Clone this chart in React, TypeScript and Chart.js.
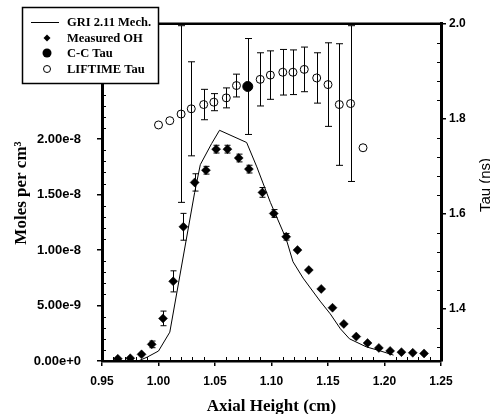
import React, { useEffect, useRef } from "react";
import { Chart, registerables } from "chart.js";
Chart.register(...registerables);

// ---------- data ----------
const xTicks = [0.95, 1.0, 1.05, 1.1, 1.15, 1.2, 1.25];
const yTicks = [0, 5e-9, 1e-8, 1.5e-8, 2e-8];
const y2Ticks = [1.4, 1.6, 1.8, 2.0];

const griX = [0.982, 0.99, 1.0, 1.01, 1.032, 1.037, 1.047, 1.054, 1.078, 1.087, 1.099, 1.113, 1.119, 1.128, 1.143, 1.152, 1.161, 1.169, 1.184, 1.195, 1.208];
const griY = [0, 0.35e-9, 0.9e-9, 2.6e-9, 15.2e-9, 17.7e-9, 19.6e-9, 20.8e-9, 19.7e-9, 17.5e-9, 14.3e-9, 11.0e-9, 8.95e-9, 7.47e-9, 5.4e-9, 4.25e-9, 2.9e-9, 2.0e-9, 1.27e-9, 0.95e-9, 0.53e-9];

const ohX = [0.964, 0.975, 0.985, 0.994, 1.004, 1.013, 1.022, 1.032, 1.042, 1.051, 1.061, 1.071, 1.08, 1.092, 1.102, 1.113, 1.123, 1.133, 1.144, 1.154, 1.164, 1.175, 1.185, 1.195, 1.205, 1.215, 1.225, 1.235];
const ohY = [0.2e-9, 0.25e-9, 0.6e-9, 1.5e-9, 3.84e-9, 7.18e-9, 12.1e-9, 16.1e-9, 17.2e-9, 19.1e-9, 19.1e-9, 18.3e-9, 17.3e-9, 15.2e-9, 13.3e-9, 11.2e-9, 10.0e-9, 8.2e-9, 6.5e-9, 4.8e-9, 3.34e-9, 2.2e-9, 1.62e-9, 1.18e-9, 0.91e-9, 0.8e-9, 0.74e-9, 0.68e-9];
const ohErr = [0, 0, 0, 0.3e-9, 0.66e-9, 0.95e-9, 1.21e-9, 0.78e-9, 0.35e-9, 0.35e-9, 0.35e-9, 0.35e-9, 0.35e-9, 0.44e-9, 0.35e-9, 0.3e-9, 0, 0, 0, 0, 0, 0, 0, 0, 0, 0, 0, 0];

const ccX = [1.079];
const ccY = [1.868];
const ccErr = [0.101];

const liftX = [1.0, 1.01, 1.02, 1.029, 1.04, 1.049, 1.06, 1.069, 1.09, 1.099, 1.11, 1.119, 1.129, 1.14, 1.15, 1.16, 1.17, 1.181];
const liftY = [1.787, 1.796, 1.81, 1.821, 1.83, 1.835, 1.844, 1.87, 1.883, 1.892, 1.898, 1.898, 1.904, 1.886, 1.872, 1.83, 1.832, 1.739];
const liftErr = [0, 0, 0.186, 0.099, 0.032, 0.018, 0.021, 0.024, 0.056, 0.051, 0.048, 0.047, 0.047, 0.053, 0.088, 0.128, 0.164, 0];

const legendLabels = ["GRI 2.11 Mech.", "Measured OH", "C-C Tau", "LIFTIME Tau"];
const xTitle = "Axial Height (cm)";
const yTitle = "Moles per cm\u00B3";
const y2Title = "Tau (ns)";

const SANS = "'Liberation Sans', Arial, sans-serif";
const SERIF = "'Liberation Serif', 'Times New Roman', serif";

const toPts = (xs: number[], ys: number[]) => xs.map((x, i) => ({ x, y: ys[i] }));

const decorPlugin = {
  id: "decor",
  afterDatasetsDraw(chart: any) {
    const ctx = chart.ctx as CanvasRenderingContext2D;
    const { left, right, top, bottom } = chart.chartArea;
    const sx = chart.scales.x, sy = chart.scales.y, sy2 = chart.scales.y2;
    ctx.save();
    ctx.beginPath();
    ctx.rect(left, top - 1, right - left, bottom - top + 2);
    ctx.clip();
    ctx.strokeStyle = "#000";
    ctx.lineWidth = 1;
    const bars = (xs: number[], ys: number[], es: number[], scale: any, cap: number) => {
      xs.forEach((x, i) => {
        const e = es[i];
        if (!e) return;
        const px = Math.round(sx.getPixelForValue(x)) + 0.5;
        const y1 = scale.getPixelForValue(ys[i] + e);
        const y2 = scale.getPixelForValue(ys[i] - e);
        ctx.beginPath();
        ctx.moveTo(px, y1);
        ctx.lineTo(px, y2);
        ctx.moveTo(px - cap, y1);
        ctx.lineTo(px + cap, y1);
        ctx.moveTo(px - cap, y2);
        ctx.lineTo(px + cap, y2);
        ctx.stroke();
      });
    };
    bars(ohX, ohY, ohErr, sy, 3);
    bars(liftX, liftY, liftErr, sy2, 3.5);
    bars(ccX, ccY, ccErr, sy2, 3.5);
    ctx.restore();
  },
  afterDraw(chart: any) {
    const ctx = chart.ctx as CanvasRenderingContext2D;
    const { left, right, top, bottom } = chart.chartArea;
    const sx = chart.scales.x, sy = chart.scales.y, sy2 = chart.scales.y2;
    ctx.save();
    ctx.strokeStyle = "#000";
    ctx.fillStyle = "#000";
    // top frame
    ctx.lineWidth = 2.5;
    ctx.beginPath();
    ctx.moveTo(left, top);
    ctx.lineTo(right + 1, top);
    ctx.stroke();
    // minor ticks
    ctx.lineWidth = 1;
    ctx.beginPath();
    for (let v = 96; v < 125; v++) {
      if (v % 5 === 0) continue;
      const px = Math.round(sx.getPixelForValue(v / 100)) + 0.5;
      ctx.moveTo(px, bottom);
      ctx.lineTo(px, bottom - 4);
    }
    for (let k = 1; k <= 30; k++) {
      if (k % 5 === 0) continue;
      const py = Math.round(sy.getPixelForValue(k * 1e-9)) + 0.5;
      ctx.moveTo(left, py);
      ctx.lineTo(left + 4, py);
    }
    for (let k = 32; k < 200; k += 4) {
      if (k % 20 === 0) continue;
      const py = Math.round(sy2.getPixelForValue(k / 100)) + 0.5;
      if (py < top || py > bottom) continue;
      ctx.moveTo(right, py);
      ctx.lineTo(right - 4, py);
    }
    ctx.stroke();

    // axis titles
    ctx.font = `bold 17px ${SERIF}`;
    ctx.textAlign = "center";
    ctx.textBaseline = "alphabetic";
    ctx.fillText(xTitle, (left + right) / 2, 411);
    ctx.save();
    ctx.translate(26, 193);
    ctx.rotate(-Math.PI / 2);
    ctx.fillText(yTitle, 0, 0);
    ctx.restore();
    ctx.save();
    ctx.font = `15px ${SANS}`;
    ctx.translate(490, 185);
    ctx.rotate(-Math.PI / 2);
    ctx.fillText(y2Title, 0, 0);
    ctx.restore();

    // legend
    const bx = 22.5, by = 7.5, bw = 136, bh = 76;
    ctx.fillStyle = "#fff";
    ctx.fillRect(bx, by, bw, bh);
    ctx.lineWidth = 1.5;
    ctx.strokeStyle = "#000";
    ctx.strokeRect(bx, by, bw, bh);
    ctx.fillStyle = "#000";
    const rows = [22.5, 38, 53, 69];
    ctx.lineWidth = 1;
    ctx.beginPath();
    ctx.moveTo(31, rows[0]);
    ctx.lineTo(59, rows[0]);
    ctx.stroke();
    // diamond
    ctx.beginPath();
    ctx.moveTo(47, rows[1] - 3.5);
    ctx.lineTo(50.5, rows[1]);
    ctx.lineTo(47, rows[1] + 3.5);
    ctx.lineTo(43.5, rows[1]);
    ctx.closePath();
    ctx.fill();
    ctx.beginPath();
    ctx.arc(47, rows[2], 4.5, 0, Math.PI * 2);
    ctx.fill();
    ctx.beginPath();
    ctx.arc(47, rows[3], 3.5, 0, Math.PI * 2);
    ctx.stroke();
    ctx.font = `bold 12.5px ${SERIF}`;
    ctx.textAlign = "left";
    ctx.textBaseline = "middle";
    legendLabels.forEach((t, i) => ctx.fillText(t, 67, rows[i] + 0.5));
    ctx.restore();
  },
};

export default function App() {
  const ref = useRef<HTMLCanvasElement | null>(null);
  useEffect(() => {
    if (!ref.current) return;
    const tickFontX = { family: SANS, size: 12, weight: "bold" as const };
    const chart = new Chart(ref.current, {
      type: "scatter",
      data: {
        datasets: [
          {
            label: legendLabels[0],
            data: toPts(griX, griY),
            showLine: true,
            borderColor: "#000",
            borderWidth: 1,
            pointRadius: 0,
            tension: 0,
            yAxisID: "y",
          },
          {
            label: legendLabels[1],
            data: toPts(ohX, ohY),
            pointStyle: "rectRot",
            pointRadius: 4.5,
            backgroundColor: "#000",
            borderColor: "#000",
            borderWidth: 0.5,
            yAxisID: "y",
          },
          {
            label: legendLabels[2],
            data: toPts(ccX, ccY),
            pointStyle: "circle",
            pointRadius: 5,
            backgroundColor: "#000",
            borderColor: "#000",
            yAxisID: "y2",
          },
          {
            label: legendLabels[3],
            data: toPts(liftX, liftY),
            pointStyle: "circle",
            pointRadius: 4,
            backgroundColor: "rgba(0,0,0,0)",
            borderColor: "#000",
            borderWidth: 1,
            yAxisID: "y2",
          },
        ],
      },
      options: {
        responsive: false,
        animation: false,
        devicePixelRatio: 1,
        layout: { padding: { top: 18, left: 0, right: 0, bottom: 0 } },
        plugins: { legend: { display: false }, tooltip: { enabled: false } },
        scales: {
          x: {
            type: "linear",
            min: 0.95,
            max: 1.25,
            afterBuildTicks: (s: any) => { s.ticks = xTicks.map((v) => ({ value: v })); },
            afterFit: (s: any) => { s.height = 53; },
            ticks: { font: tickFontX, color: "#000", padding: 8, maxRotation: 0, callback: (v: any) => Number(v).toFixed(2) },
            grid: { drawOnChartArea: false, drawTicks: true, tickLength: 5, color: "#000", lineWidth: 1.5 },
            border: { display: true, color: "#000", width: 2.5 },
          },
          y: {
            type: "linear",
            position: "left",
            min: 0,
            max: 3.04e-8,
            afterBuildTicks: (s: any) => { s.ticks = yTicks.map((v) => ({ value: v })); },
            afterFit: (s: any) => { s.width = 102; },
            ticks: { font: { family: SANS, size: 13, weight: "bold" }, color: "#000", padding: 16, callback: (v: any) => Number(v).toExponential(2) },
            grid: { drawOnChartArea: false, drawTicks: true, tickLength: 5, color: "#000", lineWidth: 1.5 },
            border: { display: true, color: "#000", width: 3 },
          },
          y2: {
            type: "linear",
            position: "right",
            min: 1.29,
            max: 2.0,
            afterBuildTicks: (s: any) => { s.ticks = y2Ticks.map((v) => ({ value: v })); },
            afterFit: (s: any) => { s.width = 49; },
            ticks: { font: tickFontX, color: "#000", padding: 3, callback: (v: any) => Number(v).toFixed(1) },
            grid: { drawOnChartArea: false, drawTicks: true, tickLength: 5, color: "#000", lineWidth: 1.5 },
            border: { display: true, color: "#000", width: 3 },
          },
        },
      },
      plugins: [decorPlugin],
    });
    return () => chart.destroy();
  }, []);
  return (
    <div style={{ position: "absolute", left: 0, top: 0, width: 490, height: 414, background: "#fff" }}>
      <canvas ref={ref} width={490} height={414} style={{ display: "block" }} />
    </div>
  );
}
